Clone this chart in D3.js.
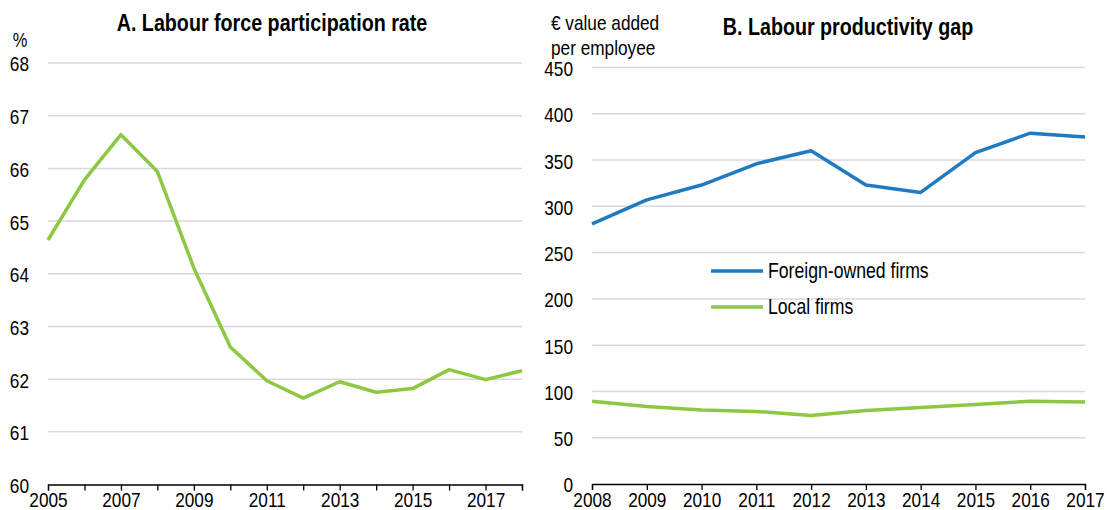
<!DOCTYPE html>
<html lang="en">
<head>
  <meta charset="UTF-8">
  <title>Labour market charts</title>
  <script src="https://d3js.org/d3.v7.min.js"></script>
  <style>
    body { margin: 0; background: #fff; }
    svg text { font-family: "Liberation Sans", Arial, sans-serif; fill: #000; }
    .tick text { font-size: 21px; }
    .title { font-size: 24px; font-weight: bold; }
  </style>
</head>
<body>
  <div id="chart"></div>
  <script>
    // panel A data
    const yearsA = [2005, 2006, 2007, 2008, 2009, 2010, 2011, 2012, 2013, 2014, 2015, 2016, 2017, 2018]
    const participation = [64.64, 65.78, 66.64, 65.94, 64.11, 62.61, 61.97, 61.64, 61.95, 61.75, 61.82, 62.18, 61.99, 62.16]
    const ticksA = [60, 61, 62, 63, 64, 65, 66, 67, 68]
    const yearLabelsA = [2005, 2007, 2009, 2011, 2013, 2015, 2017]

    // panel B data
    const yearsB = [2008, 2009, 2010, 2011, 2012, 2013, 2014, 2015, 2016, 2017]
    const foreignFirms = [281, 307, 323, 346, 360, 323, 315, 358, 379, 375]
    const localFirms = [89.5, 83.8, 80, 78.4, 74, 79.5, 82.7, 86, 89.5, 88.5]
    const ticksB = [0, 50, 100, 150, 200, 250, 300, 350, 400, 450]

    const green = '#8CC841'
    const blue = '#1F7BC1'
    const grid = '#D9D9D9'

    const svg = d3.select('#chart').append('svg')
      .attr('width', 1107)
      .attr('height', 510)

    function drawAxes (g, x, y, yTicks, xTicks, xFormat) {
      // gridlines
      g.selectAll('.grid')
        .data(yTicks.slice(1))
        .enter().append('line')
        .attr('x1', x.range()[0])
        .attr('x2', x.range()[1])
        .attr('y1', d => y(d))
        .attr('y2', d => y(d))
        .attr('stroke', grid)
        .attr('stroke-width', 1.5)

      const yAxis = g.append('g')
        .attr('transform', `translate(${x.range()[0]},0)`)
        .call(d3.axisLeft(y).tickValues(yTicks).tickSize(0).tickPadding(19).tickFormat(d3.format('d')))
      yAxis.select('.domain').remove()
      yAxis.selectAll('.tick text').attr('dy', '0.38em')

      const xAxis = g.append('g')
        .attr('transform', `translate(0,${y.range()[0]})`)
        .call(d3.axisBottom(x).tickValues(xTicks).tickSize(6).tickPadding(2).tickFormat(xFormat))
      xAxis.select('.domain').attr('stroke', '#000').attr('stroke-width', 1.3)
      xAxis.selectAll('.tick line').attr('stroke', '#000').attr('stroke-width', 1.3)
      return xAxis
    }

    // ---- Panel A
    const xA = d3.scaleLinear().domain([2005, 2018]).range([48, 522])
    const yA = d3.scaleLinear().domain([60, 68]).range([484.5, 63])
    const gA = svg.append('g')
    drawAxes(gA, xA, yA, ticksA, yearsA, d => yearLabelsA.includes(d) ? d : '')

    gA.append('path')
      .datum(yearsA.map((d, i) => [d, participation[i]]))
      .attr('fill', 'none')
      .attr('stroke', green)
      .attr('stroke-width', 3.5)
      .attr('stroke-linejoin', 'round')
      .attr('d', d3.line().x(d => xA(d[0])).y(d => yA(d[1])))

    gA.append('text')
      .attr('class', 'title')
      .attr('x', 272)
      .attr('y', 31)
      .attr('text-anchor', 'middle')
      .text('A. Labour force participation rate')

    gA.append('text')
      .attr('x', 20)
      .attr('y', 47)
      .attr('text-anchor', 'middle')
      .style('font-size', '20px')
      .text('%')

    // ---- Panel B
    const xB = d3.scaleLinear().domain([2008, 2017]).range([592, 1085])
    const yB = d3.scaleLinear().domain([0, 450]).range([484, 67.5])
    const gB = svg.append('g')
    drawAxes(gB, xB, yB, ticksB, yearsB, d3.format('d'))

    const seriesB = [
      { name: 'Foreign-owned firms', values: foreignFirms, color: blue },
      { name: 'Local firms', values: localFirms, color: green }
    ]

    gB.selectAll('.series')
      .data(seriesB)
      .enter().append('path')
      .attr('fill', 'none')
      .attr('stroke', d => d.color)
      .attr('stroke-width', 3.5)
      .attr('stroke-linejoin', 'round')
      .attr('d', s => d3.line()
        .x((d, i) => xB(yearsB[i]))
        .y(d => yB(d))(s.values))

    gB.append('text')
      .attr('class', 'title')
      .attr('x', 848)
      .attr('y', 35)
      .attr('text-anchor', 'middle')
      .text('B. Labour productivity gap')

    gB.append('text')
      .attr('x', 551)
      .attr('y', 30)
      .style('font-size', '21px')
      .text('€ value added')
    gB.append('text')
      .attr('x', 551)
      .attr('y', 55)
      .style('font-size', '21px')
      .text('per employee')

    // legend
    const legend = gB.selectAll('.legend')
      .data(seriesB)
      .enter().append('g')
      .attr('transform', (d, i) => `translate(711,${271 + i * 36})`)
    legend.append('line')
      .attr('x1', 0)
      .attr('x2', 52)
      .attr('stroke', d => d.color)
      .attr('stroke-width', 3.5)
    legend.append('text')
      .attr('x', 57)
      .attr('y', 7)
      .style('font-size', '21.5px')
      .text(d => d.name)

    // the source uses a narrow face: squeeze every label horizontally
    svg.selectAll('text').each(function () {
      const w = this.getComputedTextLength()
      if (w > 0) {
        d3.select(this)
          .attr('textLength', w * 0.82)
          .attr('lengthAdjust', 'spacingAndGlyphs')
      }
    })
  </script>
</body>
</html>
